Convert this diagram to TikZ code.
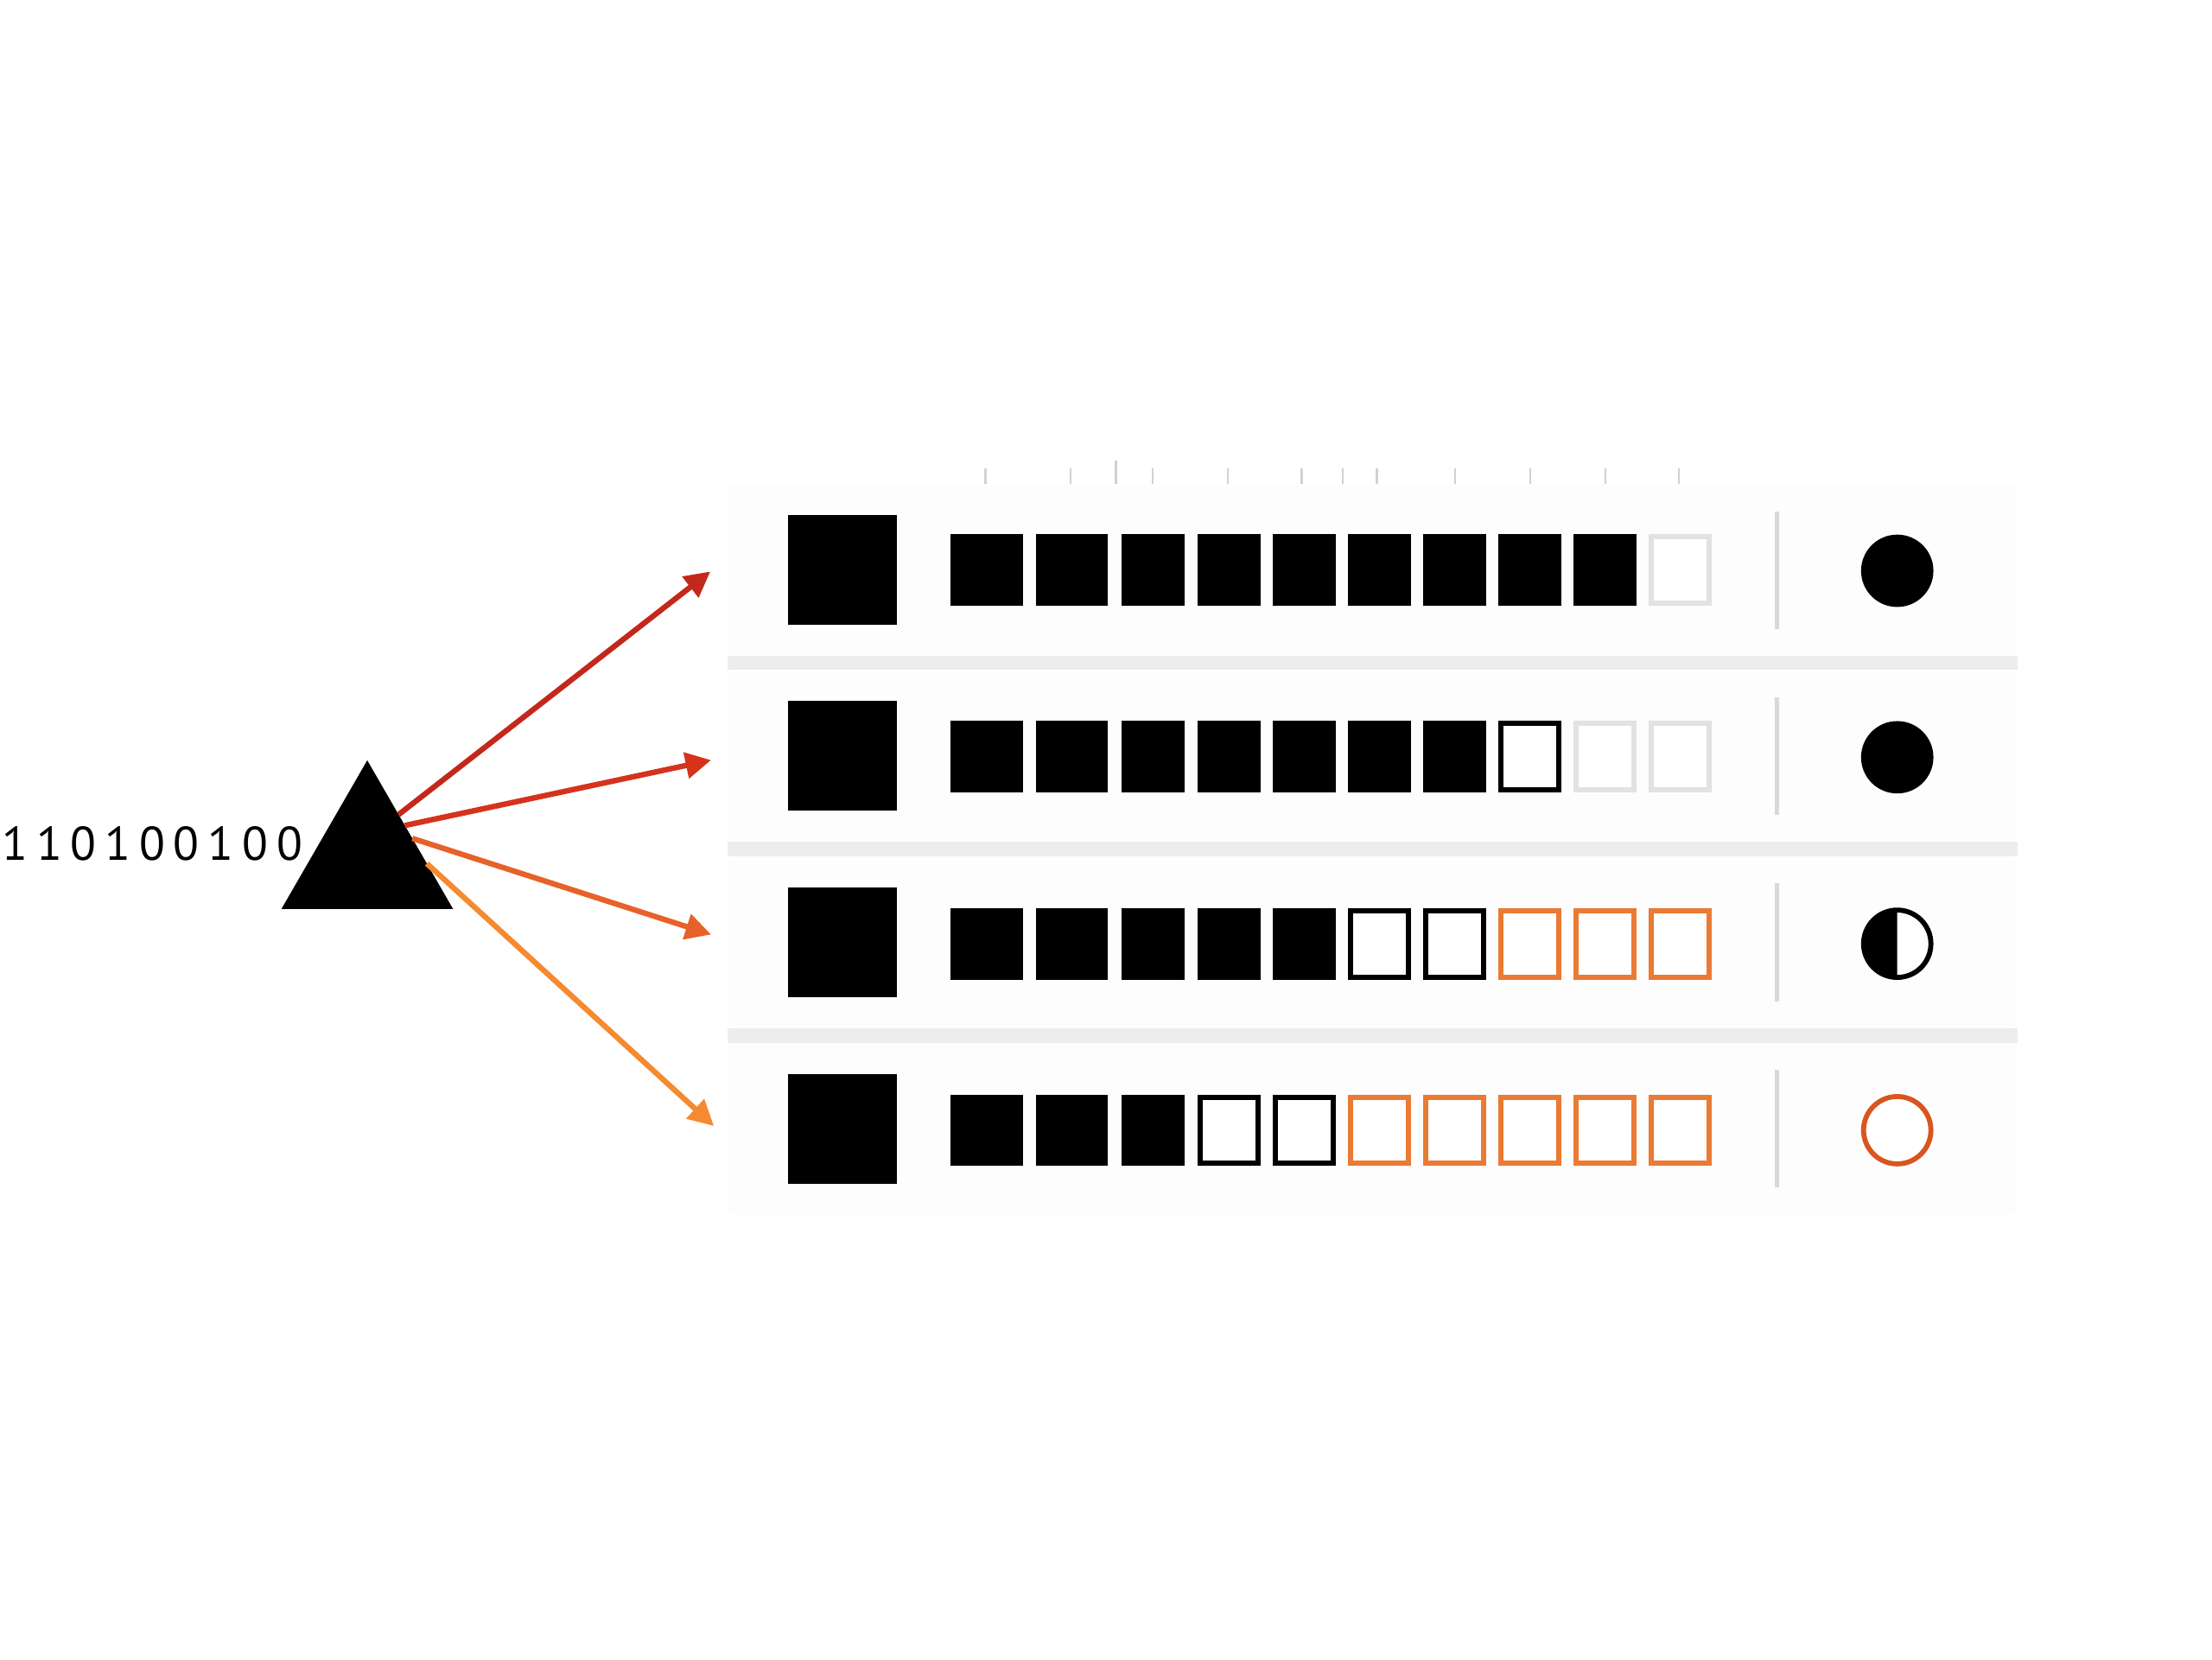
\documentclass[tikz,border=0pt]{standalone}
\usepackage{fontspec}
\setmainfont{PT Sans}
\newfontfamily\bitsfont[LetterSpace=18]{PT Sans}
\usetikzlibrary{shapes.geometric,arrows.meta}
\definecolor{ray1}{HTML}{C4281C}
\definecolor{ray2}{HTML}{D6321C}
\definecolor{ray3}{HTML}{E6622A}
\definecolor{ray4}{HTML}{F58A30}
\definecolor{cellorange}{HTML}{EA7A34}
\definecolor{cellgray}{HTML}{E2E2E2}
\definecolor{dotorange}{HTML}{D9551F}
\definecolor{panelfill}{HTML}{FDFDFD}

\begin{document}
\begin{tikzpicture}[x=0.1mm, y=-0.1mm]
  \useasboundingbox (0,0) rectangle (1560,1170);  % Rand wie im Original.
  \tikzstyle{panel}=[rectangle, rounded corners=0.6mm, minimum width=91mm, minimum height=12.1mm, inner sep=0pt,
    outer sep=0pt, fill=panelfill]
  \tikzstyle{gap}=[fill=black!7]
  \tikzstyle{big}=[rectangle, minimum width=7.65mm, minimum height=7.75mm, inner sep=0pt, fill=black]
  \tikzstyle{cell}=[rectangle, minimum height=4.68mm, inner sep=0pt, line width=1.05pt]
  \tikzstyle{dot}=[circle, minimum size=4.75mm, inner sep=0pt, outer sep=0pt, line width=1pt]
  \tikzstyle{ray}=[line width=1.1pt, -{Triangle[length=1.8mm, width=1.8mm]}]
  \tikzstyle{tick}=[draw=black!18, line width=0.4pt]

  % Zeilen
  \foreach \r/\y in {1/402, 2/533, 3/664.5, 4/796} {
    \node[panel] (p\r) at (968,\y) {};
    \node[big] (b\r) at (594,\y) {};
    \draw[draw=black!15, line width=0.9pt] (1253,\y-41.5) -- (1253,\y+41.5);
  }
  \fill[gap] (p1.south west) rectangle (p2.north east);
  \fill[gap] (p2.south west) rectangle (p3.north east);
  \fill[gap] (p3.south west) rectangle (p4.north east);

  % Kaestchen: voll, schwarz, orange, grau
  \foreach \r/\y/\nf/\nb/\no in {1/402/9/0/0, 2/533.5/7/1/0, 3/665.5/5/2/3, 4/797/3/2/5} {
    \foreach \x/\w [count=\i] in {696/47.3, 756/47.3, 813/40.8, 867/40.8, 920/40.8, 973/40.8, 1026/40.8, 1079/40.8, 1132/40.8, 1185/40.8} {
      \pgfmathtruncatemacro\kind{(\i>\nf)+(\i>\nf+\nb)+(\i>\nf+\nb+\no)}
      \ifcase\kind \def\cf{black}\def\cd{black}
      \or \def\cf{white}\def\cd{black}
      \or \def\cf{white}\def\cd{cellorange}
      \else \def\cf{white}\def\cd{cellgray}\fi
      \node[cell, minimum width=\w*0.1mm, fill=\cf, draw=\cd] (c\r-\i) at (\x,\y) {};
    }
  }

  \foreach \x in {695, 755, 813, 866, 918, 947, 971, 1026, 1079, 1132, 1184}
    \draw[tick] (\x,330) -- (\x,341);
  \draw[tick] (787,325) -- (787,341);

  \node[dot, draw=black, fill=black] (d1) at (1338,402.5) {};
  \node[dot, draw=black, fill=black] (d2) at (1338,534) {};
  \node[dot, draw=black, fill=white] (d3) at (1338,665.5) {};
  \fill (d3.south) arc (90:270:23.75) -- cycle;
  \node[dot, draw=dotorange, fill=white] (d4) at (1338,797) {};

  \node[regular polygon, regular polygon sides=3, minimum size=13.97mm, inner sep=0pt, outer sep=0pt,
    fill=black] (prism) at (259,606) {};
  \node[font=\bitsfont\fontsize{9.5pt}{10pt}\selectfont, anchor=east, inner sep=0pt] (bits) at (214,595) {110100100};

  \coordinate (t1) at (501,403);
  \coordinate (t2) at (501.5,536);
  \coordinate (t3) at (501.5,659);
  \coordinate (t4) at (503.5,794);

  \draw[ray, ray1] (prism.55) -- (t1);
  \draw[ray, ray2] (prism.42) -- (t2);
  \draw[ray, ray3] (prism.25) -- (t3);
  \draw[ray, ray4] (prism.-4) -- (t4);
\end{tikzpicture}
\end{document}
